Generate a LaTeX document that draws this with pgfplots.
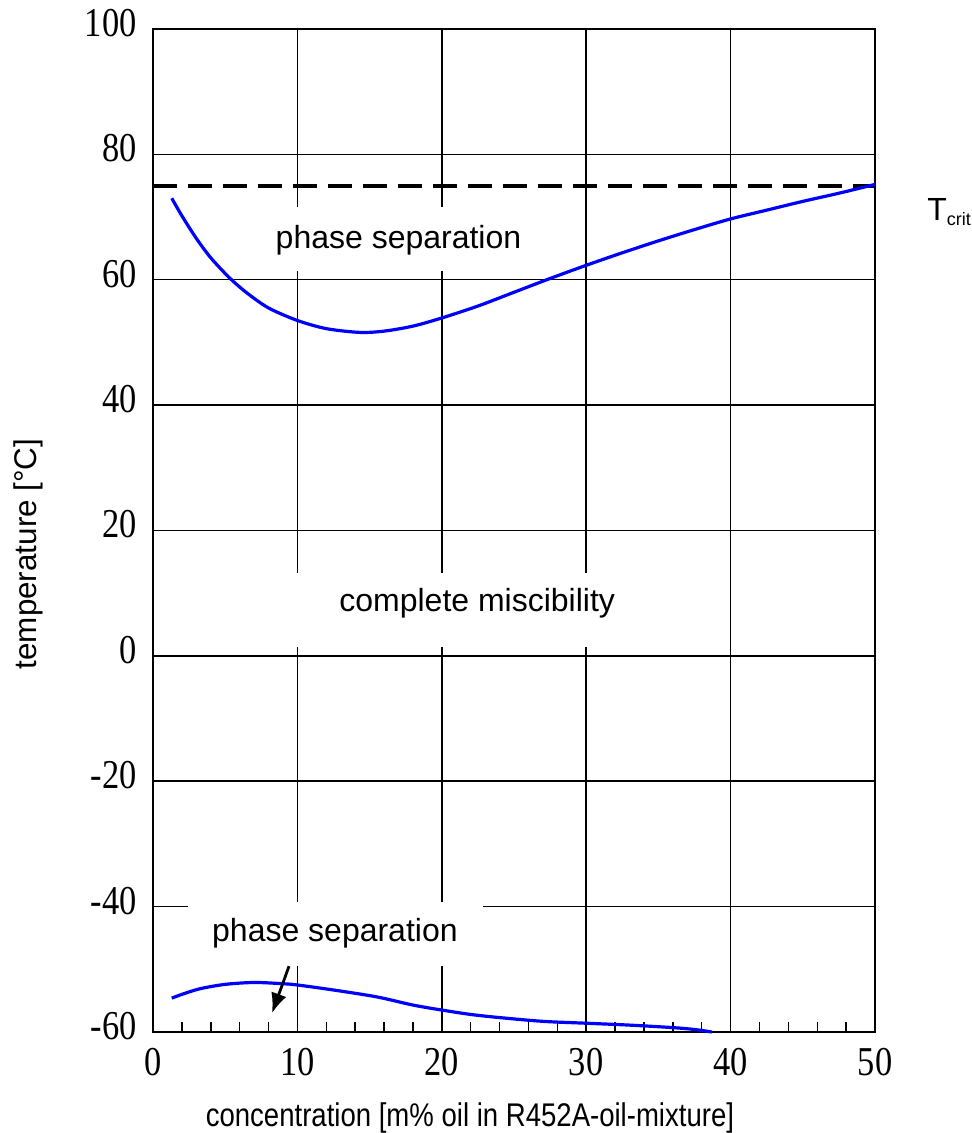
\documentclass[border=0pt]{standalone}
\usepackage{fontspec}
\setmainfont{Liberation Serif}
\newfontfamily\arial{Liberation Sans}
\newfontfamily\timesnarrow[FakeStretch=0.84]{Liberation Serif}
\newfontfamily\arialnarrow[FakeStretch=0.84]{Liberation Sans}
\usepackage{pgfplots}
\pgfplotsset{compat=1.18}
\usetikzlibrary{arrows.meta}

\begin{document}
\begin{tikzpicture}
\begin{axis}[
  scale only axis,
  width=361pt, height=501.5pt,
  xmin=0, xmax=50, ymin=-60, ymax=100,
  xtick={0,10,...,50}, ytick={-60,-40,...,100},
  minor x tick num=4,
  minor y tick num=0,
  tick pos=left,
  tick align=inside,
  major tick length=10pt,
  minor tick length=5pt,
  grid=major,
  grid style={black, line width=0.75pt},
  axis line style={black, line width=1pt},
  every tick/.style={black, line width=0.75pt},
  /pgf/number format/assume math mode=true,
  ticklabel style={font=\timesnarrow\fontsize{20.5}{22}\selectfont},
  yticklabel style={inner sep=0pt, anchor=east, xshift=-8pt, yshift=3pt},
  xticklabel style={inner sep=0pt, anchor=north, yshift=-8pt},
  xlabel={concentration [m\% oil in R452A-oil-mixture]},
  xlabel style={font=\arialnarrow\fontsize{16.4}{18}\selectfont, at={(axis description cs:0.439,-0.0947)}, anchor=base, inner sep=0pt},
  ylabel={temperature [°C]},
  ylabel style={font=\arial\fontsize{15.7}{18}\selectfont, at={(axis description cs:-0.173,0.4766)}, anchor=center, rotate=0},
  clip=false,
]
% white label backgrounds
\fill[white] (axis cs:6.7,61.4) rectangle (axis cs:27.4,71.6);
\fill[white] (axis cs:9.2,1.4) rectangle (axis cs:35.8,13.2);
\fill[white] (axis cs:2.4,-49.5) rectangle (axis cs:22.85,-39.3);

\addplot[black, line width=2pt, dash pattern=on 12pt off 5.5pt] coordinates {(0,75) (50,75)};

\addplot[blue, line width=1.6pt, smooth] coordinates {
(1.3,73.0) (2,70.2) (3,66.6) (4,63.5) (5.3,60.3) (6.5,57.9) (8,55.5)
(10,53.5) (12,52.2) (14.3,51.6) (16,51.8) (18,52.6) (20,53.9)
(22.5,55.8) (25,58.0) (27.5,60.2) (30,62.3) (32.5,64.3) (35,66.2)
(37.5,68.0) (40,69.7) (42.5,71.1) (45,72.5) (47.5,73.8) (50,75.2)};

\addplot[blue, line width=1.6pt, smooth] coordinates {
(1.3,-54.6) (2,-54.0) (3.25,-53.1) (5,-52.4) (7,-52.1) (9,-52.3)
(10,-52.5) (12.5,-53.3) (15.5,-54.4) (18,-55.7) (20,-56.5) (22,-57.2)
(24,-57.7) (27,-58.3) (30,-58.6) (33,-58.9) (36,-59.3) (37.5,-59.6) (38.7,-60.0)};

\node[font=\arial\fontsize{16}{18}\selectfont, anchor=base, inner sep=0pt] at (axis cs:17.0,65.0) {phase separation};
\node[font=\arial\fontsize{16}{18}\selectfont, anchor=base, inner sep=0pt] at (axis cs:22.45,7.0) {complete miscibility};
\node[font=\arial\fontsize{16}{18}\selectfont, anchor=base, inner sep=0pt] at (axis cs:12.6,-45.6) {phase separation};
\node[font=\arial\fontsize{16}{18}\selectfont, anchor=base west, inner sep=0pt] at (axis cs:53.6,69.5) {T\textsubscript{\fontsize{9}{10}\selectfont crit}};

\draw[black, line width=1.4pt, -{Latex[length=10pt,width=8pt]}] (axis cs:9.42,-49.5) -- (axis cs:8.24,-57.0);

\coordinate (bl) at (axis description cs:-0.2119,-0.1007);
\coordinate (tr) at (axis description cs:1.1330,1.0289);
\end{axis}
\pgfresetboundingbox
\path[use as bounding box] (bl) rectangle (tr);
\end{tikzpicture}
\end{document}
